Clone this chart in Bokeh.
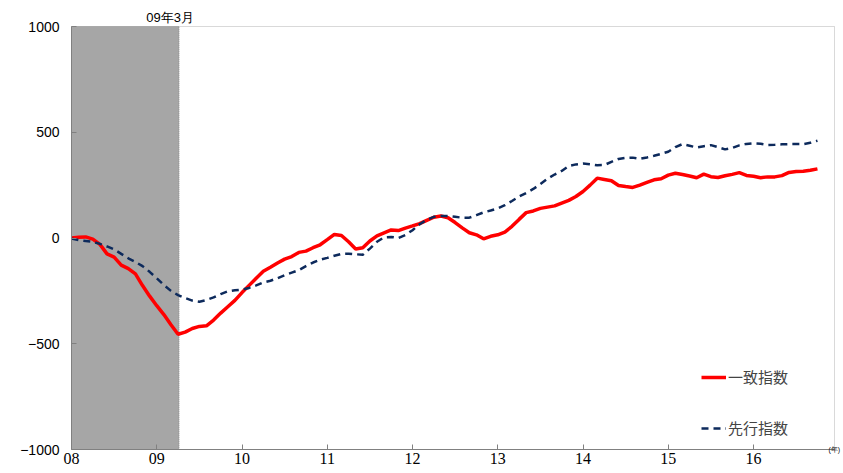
from bokeh.plotting import figure
from bokeh.models import Range1d, FixedTicker, Legend, LegendItem, Label, BoxAnnotation, LinearAxis
from bokeh.embed import file_html
from bokeh.resources import INLINE

# months since Jan 2008
coincident = [0, 3, 5, -5, -30, -75, -90, -128, -145, -170, -225, -275, -320, -362, -410, -455,
              -445, -428, -418, -415, -388, -355, -325, -295, -258, -224, -190, -157, -138, -118,
              -100, -88, -68, -62, -46, -32, -8, 17, 12, -18, -52, -46, -14, 10, 24, 38, 35, 47,
              57, 68, 83, 98, 104, 96, 73, 48, 25, 15, -4, 8, 15, 28, 55, 88, 120, 128, 140, 146,
              152, 165, 178, 196, 220, 250, 283, 277, 271, 248, 243, 239, 250, 263, 275, 280, 297,
              306, 300, 293, 285, 302, 290, 286, 294, 301, 309, 296, 292, 285, 289, 289, 295, 310,
              314, 316, 320, 327]
leading = [-3, -10, -14, -18, -28, -40, -54, -75, -96, -113, -133, -160, -190, -222, -250, -270,
           -284, -296, -301, -293, -281, -265, -252, -247, -244, -236, -224, -210, -202, -190,
           -176, -164, -152, -133, -116, -103, -94, -84, -75, -74, -77, -79, -50, -18, 3, 5, 0,
           14, 37, 65, 86, 100, 104, 104, 100, 96, 96, 108, 121, 130, 140, 155, 175, 196, 213,
           232, 255, 280, 300, 317, 340, 348, 352, 349, 344, 345, 360, 374, 379, 380, 374, 381,
           389, 398, 408, 430, 444, 436, 428, 434, 439, 430, 419, 426, 438, 445, 448, 446, 440,
           441, 443, 444, 444, 444, 450, 460]
months = list(range(len(coincident)))
year_ticks = [0, 12, 24, 36, 48, 60, 72, 84, 96]
year_labels = ["08", "09", "10", "11", "12", "13", "14", "15", "16"]
y_ticks = [-1000, -500, 0, 500, 1000]
y_labels = ["\u22121000", "\u2212500", "0", "500", "1000"]
recession_end = 15.15
recession_label = "09年3月"
series_names = ["一致指数", "先行指数"]
year_unit = "(年)"

# layout (pixels)
W, H = 843, 473
left_px, right_px, bottom_px = 71, 6, 24
plot_top_px = 26          # where the 1000 line sits
x_end = 107.4             # right border of the plotting box (data units)
y_lo, y_hi = -1000, 1000

frame_w = W - left_px - right_px
frame_h = H - bottom_px
px_per_x = (836 - left_px) / x_end
x_range_end = frame_w / px_per_x
u = (y_hi - y_lo) / (frame_h - plot_top_px)     # data units per pixel (y)
y_range_end = y_lo + frame_h * u

p = figure(width=W, height=H, output_backend="svg", toolbar_location=None,
           x_range=Range1d(0, x_range_end), y_range=Range1d(y_lo, y_range_end),
           min_border_left=left_px, min_border_right=right_px, min_border_top=0,
           min_border_bottom=bottom_px)
p.xgrid.visible = False
p.ygrid.visible = False
p.outline_line_color = None
p.background_fill_color = "white"
p.border_fill_color = "white"

# recession shading with dotted right edge
p.add_layout(BoxAnnotation(left=0, right=recession_end, bottom=y_lo, top=y_hi,
                           fill_color="#a6a6a6", fill_alpha=1.0, line_color="#404040",
                           line_dash="1 1", line_width=1, level="underlay"))

r1 = p.line(months, coincident, line_color="#ff0000", line_width=3.5)
r2 = p.line(months, leading, line_color="#0d2a5c", line_width=2.5, line_dash="7 5")

# plotting box outline
p.add_layout(BoxAnnotation(left=0, right=x_end, bottom=y_lo, top=y_hi, fill_alpha=0,
                           line_color="#808080", line_width=1))

p.add_layout(Label(x=recession_end, y=y_hi, x_offset=-9, y_offset=2, text=recession_label,
                   text_align="center", text_baseline="bottom", text_font_size="13px",
                   text_font="Liberation Sans", text_color="black"))

for ax in (p.xaxis[0], p.yaxis[0]):
    ax.axis_line_color = "#808080"
    ax.major_tick_line_color = "#808080"
    ax.minor_tick_line_color = None
    ax.major_tick_in = 5
    ax.major_tick_out = 0
    ax.major_label_text_color = "black"

p.xaxis.ticker = FixedTicker(ticks=year_ticks)
p.xaxis.major_label_overrides = dict(zip(year_ticks, year_labels))
p.xaxis.major_label_text_font = "Liberation Sans Narrow"
p.xaxis.major_label_text_font_size = "16px"
p.xaxis.major_label_standoff = 3
p.xaxis.bounds = (0, x_end)

yax = p.yaxis[0]
yax.ticker = FixedTicker(ticks=y_ticks)
yax.major_label_overrides = dict(zip(y_ticks, y_labels))
yax.major_label_text_font = "Liberation Sans"
yax.major_label_text_font_size = "14px"
yax.major_label_standoff = 12
yax.bounds = (y_lo, y_hi)

# "(年)" unit mark under the right end of the x axis, carried by a right-hand axis
unit_y = y_lo + 0.5 * u
unit_axis = LinearAxis(ticker=FixedTicker(ticks=[unit_y]), bounds=(y_lo, y_lo + 10 * u),
                       axis_line_color=None, major_tick_line_color=None, minor_tick_line_color=None,
                       major_tick_in=0, major_tick_out=0, major_label_standoff=-7,
                       major_label_overrides={unit_y: year_unit},
                       major_label_text_baseline="top",
                       major_label_text_font_size="7px", major_label_text_color="black")
p.add_layout(unit_axis, "right")

legend = Legend(items=[LegendItem(label=series_names[0], renderers=[r1]),
                       LegendItem(label=series_names[1], renderers=[r2])],
                location=(630, 11), orientation="vertical", spacing=30, padding=0, margin=0,
                glyph_width=25, glyph_height=20, label_standoff=2,
                label_text_font="Noto Sans CJK JP", label_text_font_size="15px",
                border_line_alpha=0, background_fill_alpha=0)
p.add_layout(legend)

open("out.html", "w").write(file_html(p, INLINE))
